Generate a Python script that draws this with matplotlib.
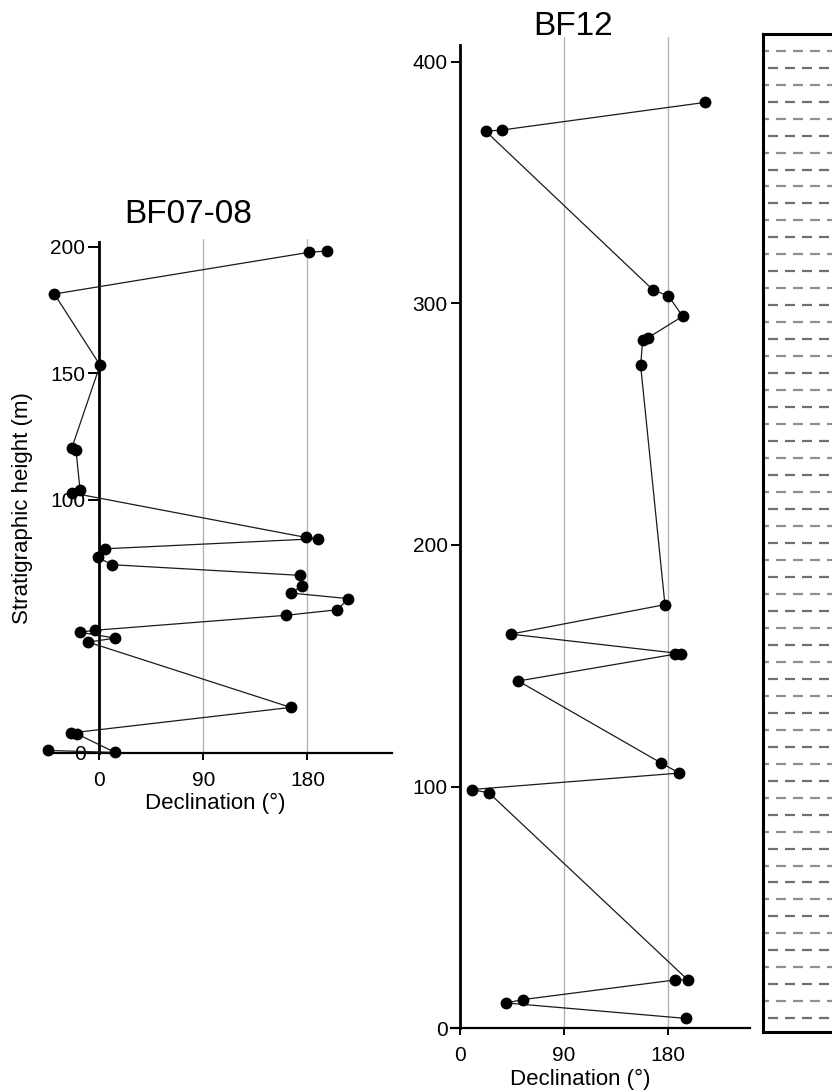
import numpy as np
import matplotlib
matplotlib.use("Agg")
import matplotlib.pyplot as plt

plt.rcParams['font.family'] = ['Liberation Sans', 'DejaVu Sans']

# Section BF07-08: declination (deg) against stratigraphic height (m)
bf0708_decl = [-44.6, 13.6, -19.6, -24.5, 165.6, -9.5, 13.6, -16.7, -3.7, 161.2,
               206.0, 215.4, 165.6, 175.6, 173.6, 11.2, -1.4, 4.9, 189.4, 178.5,
               -23.9, -16.7, -20.2, -23.9, 0.6, -38.9, 181.7, 197.2]
bf0708_height = [0.9, 0.1, 7.5, 7.8, 17.9, 43.7, 45.3, 47.6, 48.4, 54.3,
                 56.5, 60.9, 63.1, 66.0, 70.1, 74.3, 77.2, 80.6, 84.6, 85.1,
                 102.7, 103.9, 119.6, 120.3, 153.2, 181.3, 197.8, 198.3]

# Section BF12
bf12_decl = [195.4, 40.2, 55.1, 186.2, 197.1, 25.5, 10.5, 189.9, 174.1, 50.8,
             186.2, 191.4, 44.2, 177.5, 156.5, 158.3, 163.1, 192.8, 180.4, 167.5,
             22.6, 37.0, 212.1]
bf12_height = [4.1, 10.5, 11.9, 20.0, 20.1, 97.4, 98.8, 105.6, 109.8, 143.7,
               154.8, 155.0, 163.1, 175.3, 274.3, 284.9, 285.8, 294.6, 303.1, 305.4,
               371.2, 371.7, 383.1]

decl_ticks = [0, 90, 180]
bf0708_yticks = [0, 100, 150, 200]
bf12_yticks = [0, 100, 200, 300, 400]

W, H = 832, 1092
fig = plt.figure(figsize=(W / 100, H / 100), dpi=100)


def px_axes(x0, y0, x1, y1):
    """Axes from a pixel box measured from the top-left corner."""
    return fig.add_axes([x0 / W, 1 - y1 / H, (x1 - x0) / W, (y1 - y0) / H])


def style_section(ax, xlim, ylim, yticks, spine_top, ytick_len):
    ax.set_xlim(*xlim)
    ax.set_ylim(*ylim)
    ax.patch.set_alpha(0)
    for side in ("top", "right"):
        ax.spines[side].set_visible(False)
    ax.spines["left"].set_position(("data", 0))
    ax.spines["left"].set_bounds(0, spine_top)
    ax.spines["left"].set_linewidth(2.0)
    ax.spines["bottom"].set_linewidth(1.6)
    ax.set_xticks(decl_ticks)
    ax.set_yticks(yticks)
    ax.tick_params(axis="y", length=ytick_len, width=1.4, pad=2, labelsize=15)
    ax.tick_params(axis="x", length=5, width=1.4, pad=8, labelsize=15)
    for v in decl_ticks[1:]:
        ax.axvline(v, color="#b5b5b5", lw=1.0, zorder=0)


def draw_section(ax, decl, height):
    ax.plot(decl, height, "-", color="#1a1a1a", lw=0.9, marker="o", ms=7.5,
            mfc="black", mec="black", clip_on=False, zorder=4)


# BF07-08 panel
ax1 = px_axes(45, 239.1, 391.8, 752.7)
style_section(ax1, (-47, 253), (0, 203), bf0708_yticks, 202, 8)
draw_section(ax1, bf0708_decl, bf0708_height)
fig.text(188 / W, 1 - 223 / H, "BF07-08", fontsize=24, ha="center", va="baseline")
fig.text(215 / W, 1 - 809 / H, "Declination (°)", fontsize=16, ha="center", va="baseline")
fig.text(23 / W, 1 - 508 / H, "Stratigraphic height (m)", fontsize=16,
         rotation=90, ha="center", va="center")

# BF12 panel
ax2 = px_axes(451.4, 37.4, 750, 1028.3)
style_section(ax2, (-7, 251), (0, 410), bf12_yticks, 407, 6.5)
draw_section(ax2, bf12_decl, bf12_height)
fig.text(573 / W, 1 - 35 / H, "BF12", fontsize=24, ha="center", va="baseline")
fig.text(580 / W, 1 - 1085 / H, "Declination (°)", fontsize=16, ha="center", va="baseline")

# Lithology column (mudstone pattern)
col_x0, col_y0, col_y1 = 762.7, 34.0, 1031.7
axc = px_axes(col_x0, col_y0, col_x0 + 90, col_y1)
axc.set_xlim(col_x0, col_x0 + 90)
axc.set_ylim(col_y1, col_y0)
axc.set_xticks([])
axc.set_yticks([])
for s in axc.spines.values():
    s.set_linewidth(2.2)
    s.set_color("black")
row_step = 16.975
for k in range(58):
    y = 50.7 + k * row_step
    if k % 2 == 0:
        starts = np.arange(759.0, 860.0, 17.0)
        color = "#8f8f8f"
    else:
        starts = np.arange(768.4, 860.0, 17.0)
        color = "#6f6f6f"
    axc.hlines(np.full(starts.size, y), starts, starts + 10, color=color, lw=1.6)

fig.savefig("out.png", dpi=100)
